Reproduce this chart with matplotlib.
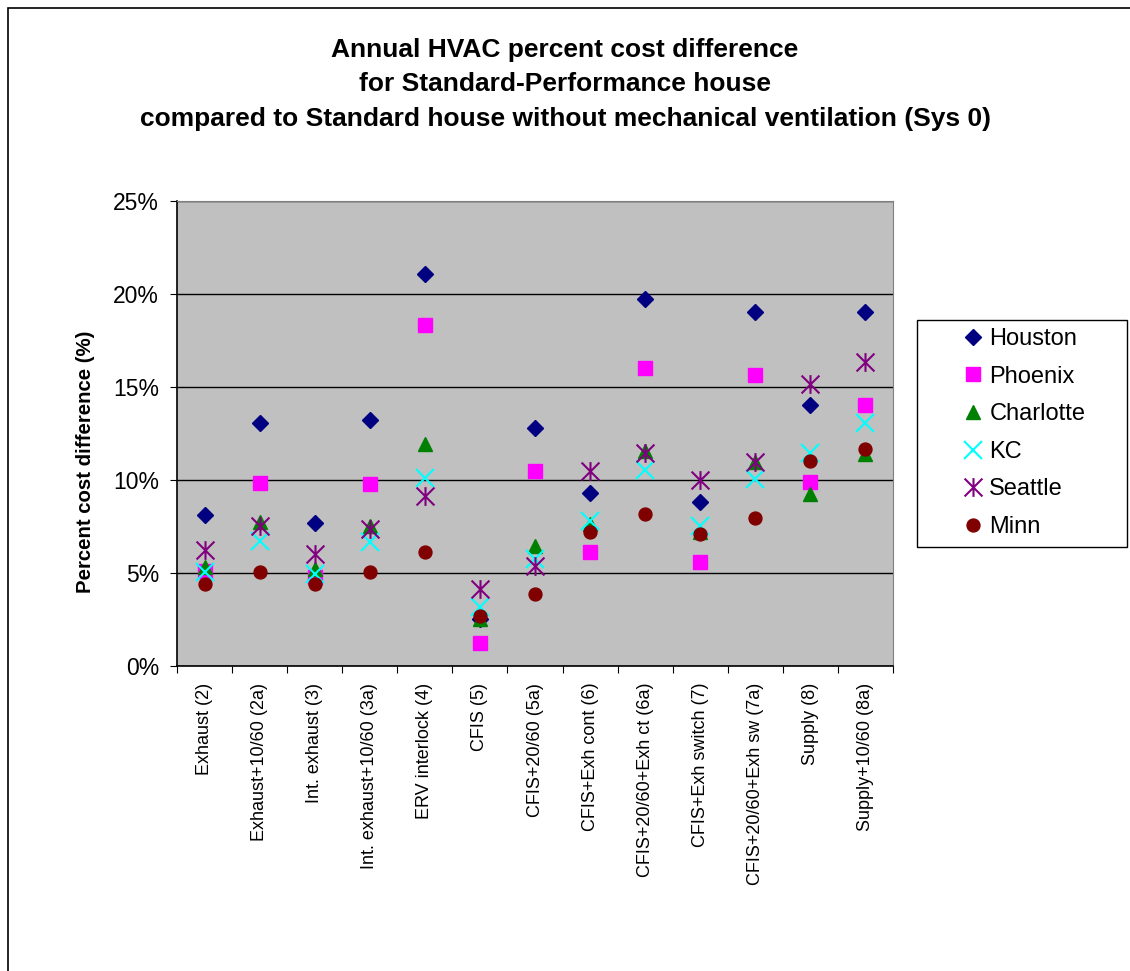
import matplotlib
matplotlib.use("Agg")
import matplotlib.pyplot as plt
from matplotlib.path import Path
from matplotlib.patches import Rectangle
import numpy as np

plt.rcParams['font.family'] = ['Liberation Sans', 'DejaVu Sans']

categories = ["Exhaust (2)", "Exhaust+10/60 (2a)", "Int. exhaust (3)",
              "Int. exhaust+10/60 (3a)", "ERV interlock (4)", "CFIS (5)",
              "CFIS+20/60 (5a)", "CFIS+Exh cont (6)", "CFIS+20/60+Exh ct (6a)",
              "CFIS+Exh switch (7)", "CFIS+20/60+Exh sw (7a)", "Supply (8)",
              "Supply+10/60 (8a)"]

houston   = [8.12, 13.04, 7.68, 13.20, 21.05, 2.55, 12.77, 9.29, 19.71, 8.84, 19.02, 14.02, 19.02]
phoenix   = [5.10, 9.84, 4.80, 9.77, 18.34, 1.21, 10.50, 6.11, 16.02, 5.57, 15.66, 9.88, 14.05]
charlotte = [5.30, 7.73, 5.20, 7.55, 11.93, 2.55, 6.43, 7.64, 11.57, 7.20, 10.95, 9.25, 11.39]
kc        = [5.05, 6.70, 4.96, 6.66, 10.09, 3.18, 5.77, 7.82, 10.54, 7.55, 10.05, 11.43, 13.09]
seattle   = [6.25, 7.52, 6.00, 7.38, 9.16, 4.16, 5.36, 10.46, 11.43, 10.00, 10.98, 15.18, 16.34]
minn      = [4.39, 5.04, 4.39, 5.04, 6.11, 2.71, 3.88, 7.18, 8.16, 7.11, 7.98, 11.04, 11.64]

series_names = ["Houston", "Phoenix", "Charlotte", "KC", "Seattle", "Minn"]
yticks = [0, 5, 10, 15, 20, 25]

W, H = 1130, 971
fig = plt.figure(figsize=(W/100, H/100), dpi=100)
fig.patch.set_facecolor('white')

# figure border
fig.patches.append(Rectangle((8/W, -0.01), 1.05, 1 - 8/H + 0.01, transform=fig.transFigure,
                             fill=False, edgecolor='black', linewidth=1.2))

ax = fig.add_axes([177/W, 1 - 666/H, (893-177)/W, (666-201)/H])
ax.set_facecolor('#C0C0C0')

# asterisk marker (x plus vertical bar)
star_path = Path([(-1, -1), (1, 1), (-1, 1), (1, -1), (0, -1.05), (0, 1.05)],
                 [Path.MOVETO, Path.LINETO, Path.MOVETO, Path.LINETO, Path.MOVETO, Path.LINETO])

x = np.arange(len(categories))
data = [houston, phoenix, charlotte, kc, seattle, minn]
styles = [
    dict(marker='D', color='#000080', ms=7.8),
    dict(marker='s', color='#FF00FF', ms=9.5),
    dict(marker='^', color='#008000', ms=10.5),
    dict(marker='x', color='#00FFFF', ms=13, mew=1.5),
    dict(marker=star_path, color='#800080', ms=13.5, mew=1.5, mfc='none'),
    dict(marker='o', color='#800000', ms=9.3),
]
handles = []
for vals, name, st in zip(data, series_names, styles):
    st = dict(st)
    c = st.pop('color')
    h, = ax.plot(x, vals, linestyle='none', color=c, mec=c,
                 mfc=st.pop('mfc', c), label=name, zorder=3, **st)
    handles.append(h)

ax.set_xlim(-0.5, len(categories) - 0.5)
ax.set_ylim(0, 25)
ax.set_yticks(yticks)
ax.set_yticklabels([f"{v}%" for v in yticks], fontsize=16.5)
ax.yaxis.grid(True, color='black', linewidth=1)
ax.set_axisbelow(True)

ax.set_xticks(np.arange(len(categories) + 1) - 0.5)
ax.set_xticklabels([])
ax.set_xticks(x, minor=True)
ax.set_xticklabels(categories, minor=True, rotation=90, fontsize=13, va='top', ha='center')
ax.tick_params(axis='x', which='minor', length=0, pad=12)
ax.tick_params(axis='x', which='major', length=5, direction='out', color='black')
ax.tick_params(axis='y', length=5, direction='out', pad=8)

for s in ['top', 'right']:
    ax.spines[s].set_color('#808080')
for s in ['left', 'bottom']:
    ax.spines[s].set_color('black')
    ax.spines[s].set_linewidth(1.2)

fig.text(86/W, 1 - 462/H, "Percent cost difference (%)", rotation=90, ha='center', va='center',
         fontsize=14.7, fontweight='bold')

fig.text(565/W, 1 - 50/H, "Annual HVAC percent cost difference", ha='center', va='center',
         fontsize=19, fontweight='bold')
fig.text(565/W, 1 - 84/H, "for Standard-Performance house", ha='center', va='center',
         fontsize=19, fontweight='bold')
fig.text(565/W, 1 - 119/H, "compared to Standard house without mechanical ventilation (Sys 0)",
         ha='center', va='center', fontsize=19, fontweight='bold')

# legend frame
fig.patches.append(Rectangle((917/W, 1 - 547/H), (1127-917)/W, (547-320)/H,
                             transform=fig.transFigure, fill=True, facecolor='white',
                             edgecolor='black', linewidth=1, zorder=1))
leg = fig.legend(handles=handles, loc='center left',
                 bbox_to_anchor=(961/W, 1 - 433/H),
                 fontsize=17, frameon=False, borderpad=0, borderaxespad=0,
                 labelspacing=0.66, handlelength=1.0, handletextpad=0.2, markerscale=1.0)

fig.savefig("out.png", dpi=100)
